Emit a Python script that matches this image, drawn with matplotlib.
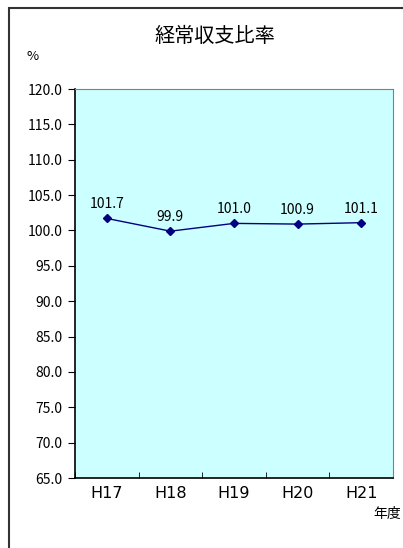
import matplotlib.pyplot as plt
import matplotlib.patches as patches

plt.rcParams['font.family'] = ['Noto Sans CJK JP', 'DejaVu Sans']

years = ['H17', 'H18', 'H19', 'H20', 'H21']
ratio = [101.7, 99.9, 101.0, 100.9, 101.1]
yticks = [65, 70, 75, 80, 85, 90, 95, 100, 105, 110, 115, 120]

W, H = 403, 548
fig = plt.figure(figsize=(W / 100, H / 100), dpi=100)

# outer frame
fig.patches.append(patches.Rectangle((9 / W, -0.1), 1.1, (H - 8) / H + 0.1,
                                     transform=fig.transFigure, fill=False,
                                     edgecolor='#333333', lw=1.5))

ax = fig.add_axes([75 / W, 1 - 478 / H, (393 - 75) / W, (478 - 89) / H])
ax.set_facecolor('#ccffff')

x = list(range(len(years)))
ax.plot(x, ratio, color='#000080', lw=1, marker='D', ms=4.5)
for xi, v in zip(x, ratio):
    ax.annotate('%.1f' % v, (xi, v), xytext=(0, 5), textcoords='offset points',
                ha='center', va='bottom', fontsize=10)

ax.set_xlim(-0.5, len(years) - 0.5)
ax.set_ylim(65, 120)
ax.set_yticks(yticks)
ax.set_yticklabels(['%.1f' % t for t in yticks], fontsize=10)
ax.set_xticks(x)
ax.set_xticklabels(years, fontsize=11.5, family='DejaVu Sans')
ax.set_xticks([i - 0.5 for i in range(len(years) + 1)], minor=True)
ax.tick_params(axis='x', which='major', length=0, pad=6)
ax.tick_params(axis='x', which='minor', direction='in', length=4)
ax.tick_params(axis='y', direction='out', length=5, pad=4)

ax.spines['left'].set_color('black')
ax.spines['bottom'].set_color('black')
ax.spines['left'].set_linewidth(1.2)
ax.spines['bottom'].set_linewidth(1.2)
ax.spines['top'].set_color('#808080')
ax.spines['right'].set_color('#808080')

fig.text(215 / W, 1 - 37 / H, '経常収支比率', ha='center', va='center', fontsize=14.5)
fig.text(33 / W, 1 - 57 / H, '%', ha='center', va='center', fontsize=9.5)
fig.text(401 / W, 1 - 514 / H, '年度', ha='right', va='center', fontsize=10)

fig.savefig('out.png', dpi=100)
